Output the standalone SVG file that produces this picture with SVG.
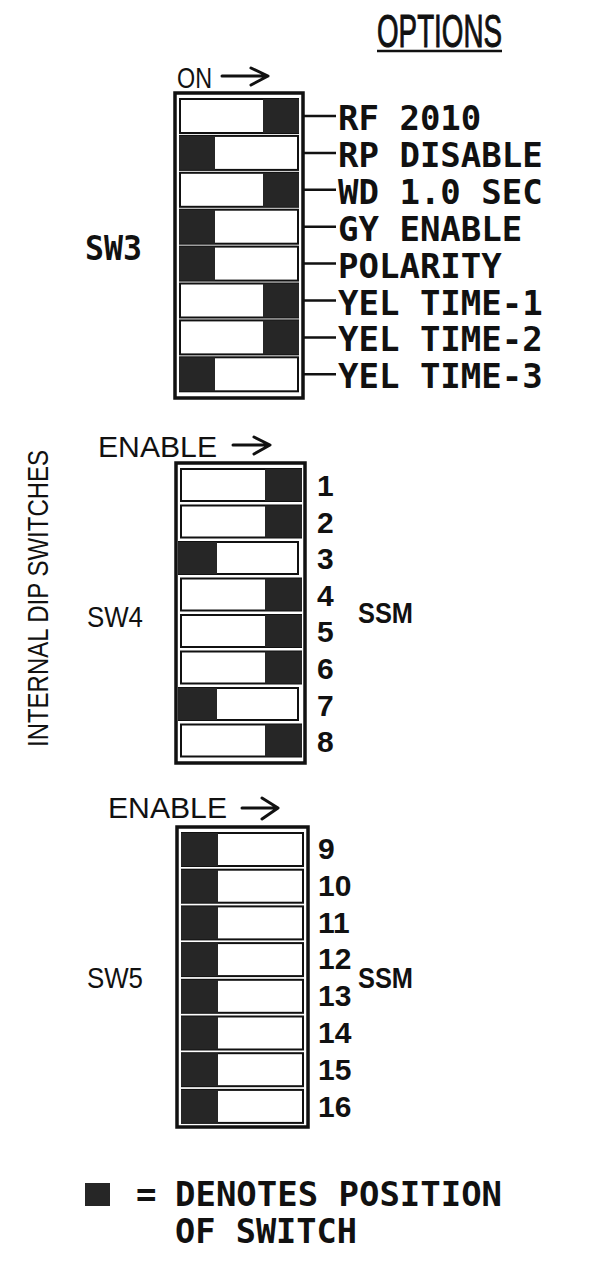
<svg xmlns="http://www.w3.org/2000/svg" width="589" height="1268" viewBox="0 0 589 1268">
<style>
  .box{fill:none;stroke:#111;stroke-width:3.5}
  .slot{fill:#fff;stroke:#111;stroke-width:2}
  .on{fill:#262626}
  .mono{font-family:"DejaVu Sans Mono","Liberation Mono",monospace;font-weight:bold;font-size:34px;fill:#111}
  .sans{font-family:"Liberation Sans",Arial,sans-serif;font-size:30px;fill:#111}
  .num{font-family:"Liberation Sans",Arial,sans-serif;font-weight:bold;font-size:30px;fill:#111}
  .lead{stroke:#111;stroke-width:2.5;fill:none}
  .arrow{stroke:#111;stroke-width:3;fill:none;stroke-linecap:round;stroke-linejoin:round}
</style>
<rect width="589" height="1268" fill="#fff"/>

<g id="title">
  <text x="377" y="47" font-family="'Liberation Sans',Arial,sans-serif" font-size="46" fill="#111" stroke="#111" stroke-width="1" textLength="125" lengthAdjust="spacingAndGlyphs">OPTIONS</text>
  <line x1="377" y1="51" x2="502" y2="51" stroke="#111" stroke-width="2.5"/>
</g>

<g id="side-label">
  <text class="sans" font-size="28" transform="translate(48,747) rotate(-90)" textLength="297" lengthAdjust="spacingAndGlyphs">INTERNAL DIP SWITCHES</text>
</g>

<!-- SW3 -->
<g id="sw3">
  <text class="sans" x="177" y="88" textLength="35" lengthAdjust="spacingAndGlyphs">ON</text>
  <text class="mono" x="85" y="260" font-size="30" textLength="57" lengthAdjust="spacingAndGlyphs">SW3</text>
  <rect class="box" x="175" y="93" width="128" height="305"/>
  <g id="sw3-1"><rect class="slot" x="180" y="99" width="118" height="34"/><rect class="on" x="263" y="99" width="36" height="34"/></g>
  <g id="sw3-2"><rect class="slot" x="180" y="135.9" width="118" height="34"/><rect class="on" x="179" y="135.9" width="36" height="34"/></g>
  <g id="sw3-3"><rect class="slot" x="180" y="172.8" width="118" height="34"/><rect class="on" x="263" y="172.8" width="36" height="34"/></g>
  <g id="sw3-4"><rect class="slot" x="180" y="209.7" width="118" height="34"/><rect class="on" x="179" y="209.7" width="36" height="34"/></g>
  <g id="sw3-5"><rect class="slot" x="180" y="246.6" width="118" height="34"/><rect class="on" x="179" y="246.6" width="36" height="34"/></g>
  <g id="sw3-6"><rect class="slot" x="180" y="283.5" width="118" height="34"/><rect class="on" x="263" y="283.5" width="36" height="34"/></g>
  <g id="sw3-7"><rect class="slot" x="180" y="320.4" width="118" height="34"/><rect class="on" x="263" y="320.4" width="36" height="34"/></g>
  <g id="sw3-8"><rect class="slot" x="180" y="357.3" width="118" height="34"/><rect class="on" x="179" y="357.3" width="36" height="34"/></g>
</g>

<g id="sw3-labels">
  <text class="mono" x="338" y="130">RF 2010</text>
  <text class="mono" x="338" y="166.9">RP DISABLE</text>
  <text class="mono" x="338" y="203.8">WD 1.0 SEC</text>
  <text class="mono" x="338" y="240.7">GY ENABLE</text>
  <text class="mono" x="338" y="277.6">POLARITY</text>
  <text class="mono" x="338" y="314.5">YEL TIME-1</text>
  <text class="mono" x="338" y="351.4">YEL TIME-2</text>
  <text class="mono" x="338" y="388.3">YEL TIME-3</text>
</g>

<!-- SW4 -->
<g id="sw4">
  <text class="sans" x="98" y="457" textLength="119" lengthAdjust="spacingAndGlyphs">ENABLE</text>
  <text class="sans" x="87" y="627" textLength="56" lengthAdjust="spacingAndGlyphs">SW4</text>
  <text class="num" x="358" y="623" textLength="55" lengthAdjust="spacingAndGlyphs">SSM</text>
  <rect class="box" x="176" y="463" width="129" height="300"/>
  <g id="sw4-1"><rect class="slot" x="181" y="469" width="120" height="32"/><rect class="on" x="265" y="469" width="37" height="32"/></g>
  <g id="sw4-2"><rect class="slot" x="181" y="505.5" width="120" height="32"/><rect class="on" x="265" y="505.5" width="37" height="32"/></g>
  <g id="sw4-3"><rect class="slot" x="179" y="542" width="119" height="32"/><rect class="on" x="178" y="542" width="39" height="32"/></g>
  <g id="sw4-4"><rect class="slot" x="181" y="578.5" width="120" height="32"/><rect class="on" x="265" y="578.5" width="37" height="32"/></g>
  <g id="sw4-5"><rect class="slot" x="181" y="615" width="120" height="32"/><rect class="on" x="265" y="615" width="37" height="32"/></g>
  <g id="sw4-6"><rect class="slot" x="181" y="651.5" width="120" height="32"/><rect class="on" x="265" y="651.5" width="37" height="32"/></g>
  <g id="sw4-7"><rect class="slot" x="179" y="688" width="119" height="32"/><rect class="on" x="178" y="688" width="39" height="32"/></g>
  <g id="sw4-8"><rect class="slot" x="181" y="724.5" width="120" height="32"/><rect class="on" x="265" y="724.5" width="37" height="32"/></g>
  <text class="num" x="317" y="496">1</text>
  <text class="num" x="317" y="532.6">2</text>
  <text class="num" x="317" y="569.2">3</text>
  <text class="num" x="317" y="605.8">4</text>
  <text class="num" x="317" y="642.4">5</text>
  <text class="num" x="317" y="679">6</text>
  <text class="num" x="317" y="715.6">7</text>
  <text class="num" x="317" y="752.2">8</text>
</g>

<!-- SW5 -->
<g id="sw5">
  <text class="sans" x="108" y="818" textLength="119" lengthAdjust="spacingAndGlyphs">ENABLE</text>
  <text class="sans" x="87" y="988" textLength="56" lengthAdjust="spacingAndGlyphs">SW5</text>
  <text class="num" x="358" y="988" textLength="55" lengthAdjust="spacingAndGlyphs">SSM</text>
  <rect class="box" x="177" y="827" width="131" height="300"/>
  <g id="sw5-9"><rect class="slot" x="182" y="833" width="121" height="33"/><rect class="on" x="181" y="833" width="37" height="33"/></g>
  <g id="sw5-10"><rect class="slot" x="182" y="869.7" width="121" height="33"/><rect class="on" x="181" y="869.7" width="37" height="33"/></g>
  <g id="sw5-11"><rect class="slot" x="182" y="906.4" width="121" height="33"/><rect class="on" x="181" y="906.4" width="37" height="33"/></g>
  <g id="sw5-12"><rect class="slot" x="182" y="943.1" width="121" height="33"/><rect class="on" x="181" y="943.1" width="37" height="33"/></g>
  <g id="sw5-13"><rect class="slot" x="182" y="979.8" width="121" height="33"/><rect class="on" x="181" y="979.8" width="37" height="33"/></g>
  <g id="sw5-14"><rect class="slot" x="182" y="1016.5" width="121" height="33"/><rect class="on" x="181" y="1016.5" width="37" height="33"/></g>
  <g id="sw5-15"><rect class="slot" x="182" y="1053.2" width="121" height="33"/><rect class="on" x="181" y="1053.2" width="37" height="33"/></g>
  <g id="sw5-16"><rect class="slot" x="182" y="1089.9" width="121" height="33"/><rect class="on" x="181" y="1089.9" width="37" height="33"/></g>
  <text class="num" x="318" y="859">9</text>
  <text class="num" x="318" y="895.8">10</text>
  <text class="num" x="318" y="932.6">11</text>
  <text class="num" x="318" y="969.4">12</text>
  <text class="num" x="318" y="1006.2">13</text>
  <text class="num" x="318" y="1043">14</text>
  <text class="num" x="318" y="1079.8">15</text>
  <text class="num" x="318" y="1116.6">16</text>
</g>

<!-- legend -->
<g id="legend">
  <rect class="on" x="85" y="1183" width="25" height="23"/>
  <text class="mono" x="136" y="1206" font-size="30">=</text>
  <text class="mono" x="175" y="1206" font-size="30" textLength="327" lengthAdjust="spacingAndGlyphs">DENOTES POSITION</text>
  <text class="mono" x="175" y="1243" font-size="30" textLength="182" lengthAdjust="spacingAndGlyphs">OF SWITCH</text>
</g>

<g id="connectors">
  <path class="lead" d="M303 116H336M303 152.9H336M303 189.8H336M303 226.7H336M303 263.6H336M303 300.5H336M303 337.4H336M303 374.3H336"/>
  <path class="arrow" d="M222 76H267M251 68L268 76L251 85"/>
  <path class="arrow" d="M233 445H269M254 437L270 445L254 454"/>
  <path class="arrow" d="M242 808H277M262 798L278 808L262 819"/>
</g>
</svg>
